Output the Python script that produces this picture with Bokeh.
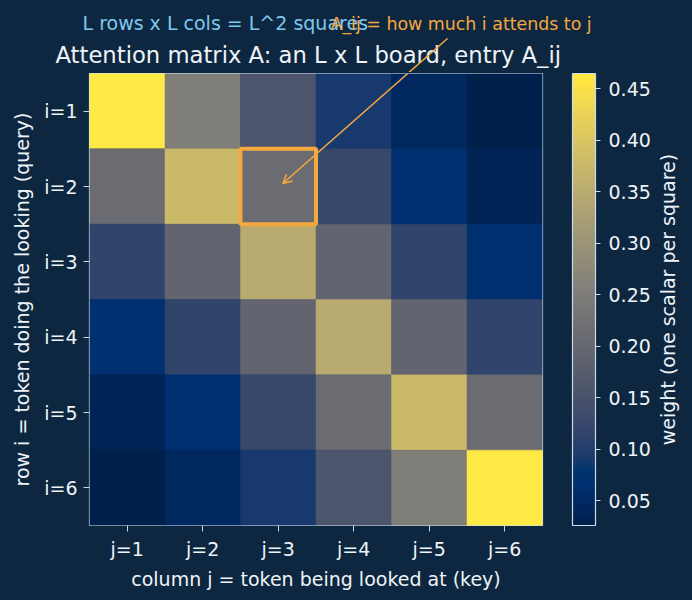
import numpy as np
from jinja2 import Template
from bokeh.plotting import figure
from bokeh.layouts import row
from bokeh.models import (ColumnDataSource, LinearColorMapper, ColorBar, FixedTicker,
                          PrintfTickFormatter, Range1d, Label, Arrow, OpenHead, LinearAxis)
from bokeh.transform import transform
from bokeh.palettes import Cividis256
from bokeh.embed import file_html
from bokeh.resources import INLINE

# attention weights A[i][j]: row i = query token, column j = key token
row_labels = ["i=1", "i=2", "i=3", "i=4", "i=5", "i=6"]
col_labels = ["j=1", "j=2", "j=3", "j=4", "j=5", "j=6"]
A = [
    [0.465, 0.253, 0.155, 0.090, 0.045, 0.026],
    [0.210, 0.377, 0.210, 0.125, 0.068, 0.037],
    [0.115, 0.195, 0.350, 0.195, 0.115, 0.068],
    [0.068, 0.115, 0.195, 0.350, 0.195, 0.115],
    [0.037, 0.068, 0.125, 0.210, 0.377, 0.210],
    [0.026, 0.045, 0.090, 0.155, 0.253, 0.465],
]
cbar_ticks = [0.05, 0.10, 0.15, 0.20, 0.25, 0.30, 0.35, 0.40, 0.45]
highlight_i, highlight_j = 2, 3

BG = "#0e2740"
FG = "#eef3f8"
EDGE = "#c9dbec"
ORANGE = "#f5a83e"
BLUE = "#7ec8ef"
FONT = "DejaVu Sans"
FS = "19px"

# page geometry (pixels)
W = 692
HEAD_H = 72                   # strip above the board: title, notes, top of the arrow
LEFT, BOTTOM = 89, 75
FW, FH = 453, 452
MAIN_RIGHT = 110              # gap + colour bar + its tick labels
CAP_LEFT = 25                 # room for the colour bar caption
L = len(A)
sx, sy = FW / L, FH / L       # pixels per cell


def col_at(px):
    """data x for a page x-pixel"""
    return 0.5 + (px - LEFT) / sx


def row_at(py):
    """data y for a page y-pixel (rows grow downward)"""
    return 0.5 + (py - (HEAD_H + 1)) / sy


ii, jj, vv = [], [], []
for r in range(L):
    for c in range(L):
        ii.append(r + 1)
        jj.append(c + 1)
        vv.append(A[r][c])
vals = np.array(vv)
mapper = LinearColorMapper(palette=Cividis256, low=vals.min(), high=vals.max())
src = ColumnDataSource(dict(i=ii, j=jj, v=vv))

# arrow from the note down into the highlighted cell
arrow_tail = (col_at(447), row_at(38))
arrow_head = (highlight_j + 0.06, highlight_i - 0.04)

# ---- header strip: title, the two notes and the top of the arrow ----
top = figure(width=W, height=HEAD_H, title=None,
             x_range=Range1d(col_at(0), col_at(W)), y_range=Range1d(row_at(HEAD_H), row_at(0)),
             x_axis_location=None, y_axis_location=None,
             output_backend="svg", toolbar_location=None,
             min_border_left=0, min_border_right=0, min_border_top=0, min_border_bottom=0,
             background_fill_color=BG, border_fill_color=BG, outline_line_color=None)
top.grid.visible = False
top.add_layout(Label(x=col_at(55), y=row_at(54), text="Attention matrix A: an L x L board, entry A_ij",
                     text_color=FG, text_font=FONT, text_font_size="22.7px",
                     text_align="left", text_baseline="middle"))
top.add_layout(Label(x=col_at(82), y=row_at(22.4), text="L rows x L cols = L^2 squares",
                     text_color=BLUE, text_font=FONT, text_font_size="19px",
                     text_align="left", text_baseline="middle"))
top.add_layout(Label(x=col_at(330), y=row_at(23), text="A_ij = how much i attends to j",
                     text_color=ORANGE, text_font=FONT, text_font_size="17.4px",
                     text_align="left", text_baseline="middle"))
top.add_layout(Arrow(x_start=arrow_tail[0], y_start=arrow_tail[1],
                     x_end=arrow_head[0], y_end=arrow_head[1],
                     line_color=ORANGE, line_width=1.5, end=None))

# ---- the board ----
p = figure(frame_width=FW, frame_height=FH, title=None,
           x_range=Range1d(0.5, L + 0.5), y_range=Range1d(L + 0.5, 0.5),
           output_backend="svg", toolbar_location=None,
           min_border_left=LEFT, min_border_top=1, min_border_bottom=BOTTOM,
           min_border_right=MAIN_RIGHT,
           background_fill_color=BG, border_fill_color=BG)

p.rect(x="j", y="i", width=1, height=1, source=src,
       fill_color=transform("v", mapper), line_color=transform("v", mapper), line_width=0.5)

# outline the cell A_ij being described
p.rect(x=[highlight_j], y=[highlight_i], width=1, height=1, fill_color=None,
       line_color=ORANGE, line_width=4)

p.add_layout(Arrow(x_start=arrow_tail[0], y_start=arrow_tail[1],
                   x_end=arrow_head[0], y_end=arrow_head[1],
                   line_color=ORANGE, line_width=1.5,
                   end=OpenHead(size=9, line_color=ORANGE, line_width=1.5)))

p.grid.visible = False
p.outline_line_color = EDGE
p.outline_line_width = 1.2

for ax, labels in ((p.xaxis[0], col_labels), (p.yaxis[0], row_labels)):
    ax.ticker = FixedTicker(ticks=list(range(1, L + 1)))
    ax.major_label_overrides = {k + 1: t for k, t in enumerate(labels)}
    ax.major_label_text_color = FG
    ax.major_label_text_font = FONT
    ax.major_label_text_font_size = FS
    ax.axis_label_text_color = FG
    ax.axis_label_text_font = FONT
    ax.axis_label_text_font_size = FS
    ax.axis_label_text_font_style = "normal"
    ax.axis_line_color = None
    ax.major_tick_line_color = EDGE
    ax.major_tick_in = 0
    ax.major_tick_out = 6
    ax.minor_tick_line_color = None
    ax.major_label_standoff = 6

p.xaxis.axis_label = "column j = token being looked at (key)"
p.xaxis.axis_label_standoff = 5
p.yaxis.axis_label = "row i = token doing the looking (query)"
p.yaxis.axis_label_standoff = 8
p.yaxis.major_label_orientation = "horizontal"

# spacer between the board and the colour bar
p.extra_y_ranges = {"gap": Range1d(0, 1)}
gap = LinearAxis(y_range_name="gap", ticker=FixedTicker(ticks=[]),
                 axis_line_color=None, major_tick_line_color=None, minor_tick_line_color=None,
                 major_label_standoff=0, major_tick_out=0, major_tick_in=0,
                 axis_label=" ", axis_label_text_font_size="14px", axis_label_standoff=11)
p.add_layout(gap, "right")

cb = ColorBar(color_mapper=mapper, ticker=FixedTicker(ticks=cbar_ticks),
              formatter=PrintfTickFormatter(format="%.2f"),
              width=23, padding=0, margin=0,
              background_fill_color=BG, background_fill_alpha=0,
              bar_line_color=EDGE, bar_line_width=1.2,
              major_tick_line_color=EDGE, major_tick_out=5, major_tick_in=0,
              minor_tick_line_color=None,
              major_label_text_color=FG, major_label_text_font=FONT,
              major_label_text_font_size=FS, label_standoff=8,
              border_line_color=None)
p.add_layout(cb, "right")

# narrow strip to the right whose left axis carries the colour bar caption
cap = figure(frame_width=W - (LEFT + FW + MAIN_RIGHT) - CAP_LEFT, frame_height=FH, title=None,
             x_range=Range1d(0, 1), y_range=Range1d(0, 1),
             x_axis_location=None, output_backend="svg", toolbar_location=None,
             min_border_left=CAP_LEFT, min_border_right=0, min_border_top=1,
             min_border_bottom=BOTTOM,
             background_fill_color=BG, border_fill_color=BG, outline_line_color=None)
cap.grid.visible = False
cy = cap.yaxis[0]
cy.ticker = FixedTicker(ticks=[])
cy.axis_line_color = None
cy.major_tick_line_color = None
cy.minor_tick_line_color = None
cy.major_tick_out = 0
cy.major_tick_in = 0
cy.major_label_standoff = 0
cy.axis_label = "weight (one scalar per square)"
cy.axis_label_text_color = FG
cy.axis_label_text_font = FONT
cy.axis_label_text_font_size = FS
cy.axis_label_text_font_style = "normal"
cy.axis_label_standoff = 0

board = row(p, cap, spacing=0)

# page shell in the same dark tone so the two stacked roots read as one panel
page = Template("{% extends base %}{% block preamble %}"
                "<style>html, body { margin: 0; padding: 0; background: " + BG + "; }</style>"
                "{% endblock %}")
try:
    html = file_html([top, board], INLINE, template=page)
except Exception:
    html = file_html([top, board], INLINE)
open("out.html", "w").write(html)
